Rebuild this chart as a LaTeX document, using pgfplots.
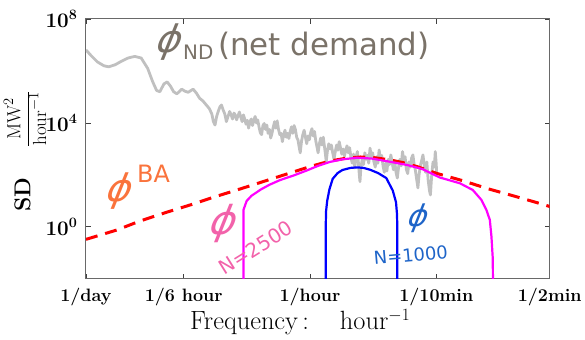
\documentclass[border=0pt]{standalone}
\usepackage{fontspec}
\usepackage{pgfplots}
\pgfplotsset{compat=1.18}
\newfontfamily\hand{DejaVu Sans}
\definecolor{ndgray}{RGB}{122,114,104}
\definecolor{baorange}{RGB}{250,115,60}
\definecolor{npink}{RGB}{242,98,170}
\definecolor{nblue}{RGB}{30,100,200}
\definecolor{psdgray}{RGB}{192,192,192}
\definecolor{axgray}{RGB}{105,105,105}
\definecolor{pmag}{RGB}{255,0,255}
\definecolor{pred}{RGB}{255,0,0}
\definecolor{pblue}{RGB}{0,0,255}
\begin{document}
\begin{tikzpicture}[x=1bp,y=1bp]
% values are log10 of frequency (hour^-1) and log10 of SD
\begin{axis}[
  scale only axis, width=464bp, height=260bp,
  xmin=-1.380211, xmax=1.477121, ymin=-2, ymax=8,
  xtick={-1.380211,-0.778151,0,0.778151,1.477121},
  xticklabels={1/day,1/6 hour,1/hour,1/10min,1/2min},
  ytick={0,4,8},
  yticklabels={$10^{0}$,$10^{4}$,$10^{8}$},
  tick align=inside,
  major tick length=5bp,
  minor tick num=0,
  axis line style={axgray, line width=1bp},
  tick style={black!75, line width=0.8bp},
  xticklabel style={font=\fontsize{18}{20}\selectfont\bfseries, yshift=-6bp},
  yticklabel style={font=\fontsize{22}{24}\selectfont\boldmath, xshift=-5bp},
  clip=true,
]
% net demand spectrum
\addplot[psdgray, line width=2.8bp, line join=round] coordinates {
(-1.38,6.81)(-1.35,6.6)(-1.31,6.35)(-1.27,6.2)(-1.24,6.16)(-1.2,6.24)(-1.16,6.38)
(-1.12,6.5)(-1.08,6.56)(-1.04,6.5)(-1.0,6.1)(-0.97,5.6)(-0.945,5.25)(-0.925,5.2)
(-0.9,5.5)(-0.88,5.58)(-0.86,5.42)(-0.84,5.2)(-0.82,5.12)(-0.79,5.3)(-0.77,5.22)
(-0.75,5.18)(-0.72,5.3)(-0.7,5.15)(-0.68,4.95)(-0.66,4.85)(-0.64,4.7)(-0.62,4.55)
(-0.605,4.35)(-0.595,4.05)(-0.585,3.92)(-0.575,4.25)(-0.565,4.45)(-0.555,4.62)
(-0.545,4.69)(-0.535,4.5)(-0.525,4.35)(-0.515,4.05)(-0.505,4.25)(-0.495,4.44)
(-0.485,4.3)(-0.477,4.15)(-0.468,4.38)(-0.46,4.3)(-0.452,4.12)(-0.443,4.28)
(-0.435,4.42)(-0.426,4.22)(-0.418,4.05)(-0.41,4.31)(-0.402,4.15)(-0.394,3.95)
(-0.386,4.1)(-0.378,3.8)(-0.37,4.05)(-0.362,4.15)(-0.354,3.9)(-0.346,4.1)(-0.338,4.25)
(-0.33,4.0)(-0.322,4.12)(-0.314,3.85)(-0.306,3.62)(-0.298,3.55)(-0.29,3.9)(-0.282,3.98)
(-0.274,3.75)(-0.266,3.92)(-0.258,3.6)(-0.25,3.75)(-0.242,3.42)(-0.234,3.6)(-0.226,3.85)
(-0.218,4.05)(-0.21,3.8)(-0.202,4.08)(-0.194,3.75)(-0.186,3.55)(-0.178,3.6)(-0.17,3.28)
(-0.162,3.55)(-0.154,3.72)(-0.146,3.45)(-0.138,3.6)(-0.13,3.4)(-0.122,3.67)(-0.114,3.85)
(-0.106,3.6)(-0.098,3.9)(-0.09,3.75)(-0.082,3.45)(-0.074,3.35)(-0.066,3.05)(-0.06,2.85)
(-0.052,3.3)(-0.044,3.55)(-0.036,3.72)(-0.028,3.45)(-0.02,3.2)(-0.012,3.5)(-0.004,3.35)
(0.004,3.62)(0.012,3.78)(0.02,3.5)(0.028,3.67)(0.036,3.3)(0.044,3.05)(0.05,2.85)
(0.058,3.2)(0.066,3.42)(0.074,3.15)(0.082,3.45)(0.09,3.05)(0.096,2.75)(0.1,2.51)
(0.108,2.95)(0.116,3.2)(0.124,3.0)(0.132,3.15)(0.14,2.85)(0.148,2.6)(0.156,2.9)
(0.164,3.15)(0.172,2.95)(0.18,3.28)(0.188,3.05)(0.196,2.8)(0.204,3.0)(0.212,2.72)
(0.22,2.95)(0.228,3.12)(0.236,2.85)(0.244,3.05)(0.252,2.7)(0.26,2.45)(0.268,2.8)
(0.276,2.27)(0.284,2.7)(0.292,2.9)(0.298,2.5)(0.304,2.0)(0.308,1.74)(0.314,2.3)
(0.322,2.6)(0.33,2.4)(0.338,2.85)(0.346,2.6)(0.354,2.75)(0.362,2.45)(0.37,3.03)
(0.378,2.7)(0.386,2.85)(0.394,2.5)(0.402,2.3)(0.41,2.7)(0.418,2.45)(0.426,2.96)
(0.434,2.6)(0.442,2.75)(0.45,2.35)(0.458,2.1)(0.466,2.45)(0.474,2.15)(0.482,2.6)
(0.49,2.4)(0.498,2.77)(0.506,2.5)(0.514,2.2)(0.522,2.55)(0.53,2.1)(0.538,1.88)
(0.546,2.3)(0.554,2.6)(0.562,2.35)(0.57,2.9)(0.578,2.55)(0.586,2.7)(0.594,2.2)
(0.602,2.05)(0.61,2.5)(0.618,2.3)(0.626,2.65)(0.634,2.77)(0.642,2.4)(0.65,2.15)
(0.658,1.8)(0.665,1.5)(0.672,2.0)(0.68,2.35)(0.688,2.55)(0.696,2.77)(0.704,2.4)
(0.712,2.1)(0.72,2.5)(0.728,1.8)(0.736,1.4)(0.742,1.23)(0.75,2.0)(0.758,2.5)
(0.766,2.3)(0.772,2.9)(0.778,2.4)(0.781,2.0)
};
% BA
\addplot[pred, line width=3bp, dash pattern=on 12bp off 8bp] coordinates {
(-1.38,-0.48)(-1.19,-0.12)(-1.05,0.22)(-0.89,0.55)(-0.73,0.86)(-0.59,1.15)(-0.43,1.46)
(-0.28,1.76)(-0.13,2.06)(0.0,2.32)(0.12,2.53)(0.22,2.64)(0.31,2.69)(0.40,2.66)
(0.49,2.58)(0.57,2.48)(0.66,2.32)(0.78,2.06)(0.94,1.78)(1.095,1.47)(1.25,1.2)
(1.40,0.93)(1.48,0.78)
};
% N = 2500
\addplot[pmag, line width=2.2bp] coordinates {
(-0.41,-2.5)(-0.41,0.65)(-0.39,1.0)(-0.36,1.2)(-0.3,1.45)(-0.25,1.62)(-0.185,1.8)
(-0.1,1.98)(-0.02,2.17)(0.05,2.35)(0.123,2.5)(0.2,2.6)(0.29,2.66)(0.38,2.63)
(0.49,2.51)(0.6,2.38)(0.695,2.22)(0.8,1.9)(0.923,1.68)(1.003,1.42)(1.056,1.04)
(1.087,0.65)(1.108,0.27)(1.118,-0.37)(1.126,-1.2)(1.128,-2.5)
};
% N = 1000
\addplot[pblue, line width=2.2bp] coordinates {
(0.097,-2.5)(0.097,0.0)(0.099,0.6)(0.106,1.0)(0.12,1.45)(0.14,1.85)(0.17,2.07)
(0.2,2.19)(0.25,2.27)(0.29,2.29)(0.33,2.27)(0.37,2.2)(0.42,2.07)(0.47,1.88)
(0.51,1.4)(0.53,0.95)(0.536,0.5)(0.538,0.0)(0.538,-2.5)
};
\end{axis}
% page frame: axis box corner is at (0,0); page is 585 x 340
\path (-86,-61) rectangle (499,279);
% axis labels
\node[rotate=90, inner sep=0pt] at (-63.5,84.5) {\fontsize{23}{26}\selectfont\textbf{SD}};
\node[rotate=90, inner sep=0pt] at (-61,160) {\fontsize{19}{22}\selectfont$\displaystyle\frac{\mathrm{MW}^2}{\mathrm{hour}^{-1}}$};
\node[anchor=base west, inner sep=0pt] at (104,-51) {\fontsize{26.5}{28}\selectfont Frequency\,:\hspace{31bp}hour$^{-1}$};
% hand-written annotations
\node[ndgray, xslant=0.4] at (84,237) {\hand\fontsize{38}{40}\selectfont ϕ};
\node[ndgray, anchor=base west, inner sep=0pt] at (97,219) {\hand\fontsize{20}{22}\selectfont ND};
\node[ndgray, anchor=base west, inner sep=0pt] at (132,223) {\hand\fontsize{31}{33}\selectfont (net demand)};
\node[baorange, xslant=0.4] at (34,88) {\hand\fontsize{38}{40}\selectfont ϕ};
\node[baorange, anchor=base west, inner sep=0pt] at (51,96) {\hand\fontsize{24}{26}\selectfont BA};
\node[npink, xslant=0.4] at (138,55) {\hand\fontsize{40}{42}\selectfont ϕ};
\node[npink, rotate=32] at (170,31) {\hand\fontsize{20}{22}\selectfont N=2500};
\node[nblue, xslant=0.4] at (333,61) {\hand\fontsize{30}{32}\selectfont ϕ};
\node[nblue, rotate=5] at (325,24) {\hand\fontsize{18}{20}\selectfont N=1000};
\end{tikzpicture}
\end{document}
